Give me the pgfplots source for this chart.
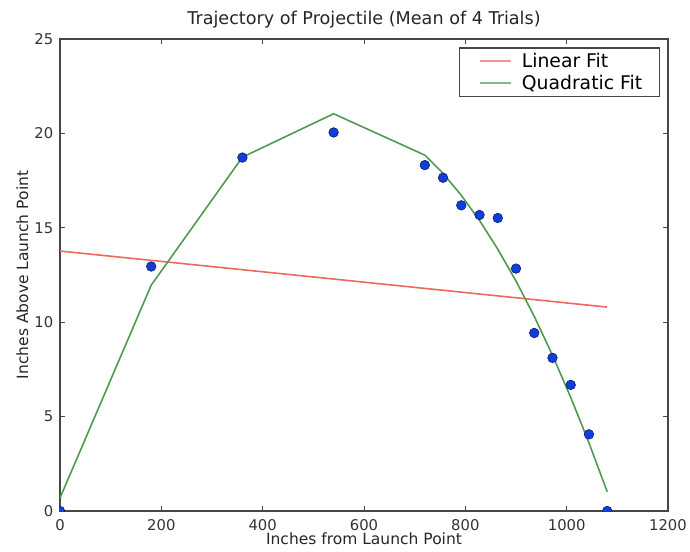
\documentclass[border=0pt]{standalone}
\usepackage{fontspec}
\setmainfont{DejaVu Sans}
\usepackage{pgfplots}
\pgfplotsset{compat=1.18}

\definecolor{linfit}{RGB}{238,104,92}
\definecolor{quadfit}{RGB}{80,155,80}
\definecolor{ptfill}{RGB}{16,62,214}
\definecolor{ptedge}{RGB}{10,30,120}
\definecolor{axisline}{RGB}{70,70,70}

% mean heights (inches) vs distance (inches)
\pgfplotstableread{
x y
0 0
180 12.95
360 18.72
540 20.05
720 18.32
756 17.65
792 16.19
828 15.68
864 15.52
900 12.84
936 9.43
972 8.11
1008 6.68
1044 4.06
1080 0
}\measured

\pgfplotstableread{
x y
0 13.77
1080 10.80
}\linear

\pgfplotstableread{
x y
0 0.69
180 11.96
360 18.74
540 21.04
720 18.85
756 17.88
792 16.72
828 15.39
864 13.87
900 12.18
936 10.31
972 8.25
1008 6.02
1044 3.61
1080 1.02
}\quadratic

\begin{document}
\begin{tikzpicture}
\path[use as bounding box] (-30pt,-20pt) rectangle (315pt,255.5pt);
\begin{axis}[
    at={(0,0)}, anchor=south west,
    scale only axis,
    width=304pt, height=236pt,
    xmin=0, xmax=1200, ymin=0, ymax=25,
    xtick={0,200,...,1200},
    ytick={0,5,...,25},
    tick align=inside,
    major tick length=2.5pt,
    tick style={axisline, line width=0.5pt},
    axis line style={axisline, line width=0.9pt},
    /pgf/number format/assume math mode=true,
    /pgf/number format/1000 sep={},
    ticklabel style={font=\fontsize{7.4}{9}\selectfont, text=black!80},
    xticklabel style={inner sep=0pt, yshift=-4pt},
    yticklabel style={inner sep=0pt, xshift=-3.2pt},
    every axis title shift=0pt,
    title={Trajectory of Projectile (Mean of 4 Trials)},
    title style={at={(axis description cs:0.5,1.0297)}, anchor=base,
                 font=\fontsize{8.8}{10}\selectfont, text=black!85},
    xlabel={Inches from Launch Point},
    xlabel style={at={(axis description cs:0.5,-0.072)}, anchor=base,
                  font=\fontsize{7.75}{9}\selectfont, text=black!85},
    ylabel={Inches Above Launch Point},
    ylabel style={at={(axis description cs:-0.0526,0.5)}, anchor=base,
                  font=\fontsize{7.75}{9}\selectfont, text=black!85},
    legend style={at={(axis description cs:0.9865,0.982)}, anchor=north east,
                  draw=axisline, line width=0.6pt, font=\fontsize{9.4}{11}\selectfont,
                  row sep=0pt, inner xsep=5pt, inner ysep=1.2pt,
                  nodes={inner xsep=3.5pt, inner ysep=1.3pt, text height=7.3pt, text depth=1pt}},
    legend cell align=left,
    legend image code/.code={%
        \path[draw=none] (-5pt,0pt) -- (17.5pt,0pt);
        \draw[#1, line width=1pt, opacity=0.7] (0pt,0pt) -- (15.5pt,0pt);},
    clip marker paths=true,
]
\addplot[linfit, line width=0.8pt] table[x=x, y=y] {\linear};
\addlegendentry{Linear Fit}
\addplot[quadfit, line width=0.8pt] table[x=x, y=y] {\quadratic};
\addlegendentry{Quadratic Fit}
\addplot[only marks, mark=*, mark size=2.4pt,
         mark options={fill=ptfill, draw=ptedge, line width=0.3pt}, forget plot]
    table[x=x, y=y] {\measured};
\end{axis}
\end{tikzpicture}
\end{document}
